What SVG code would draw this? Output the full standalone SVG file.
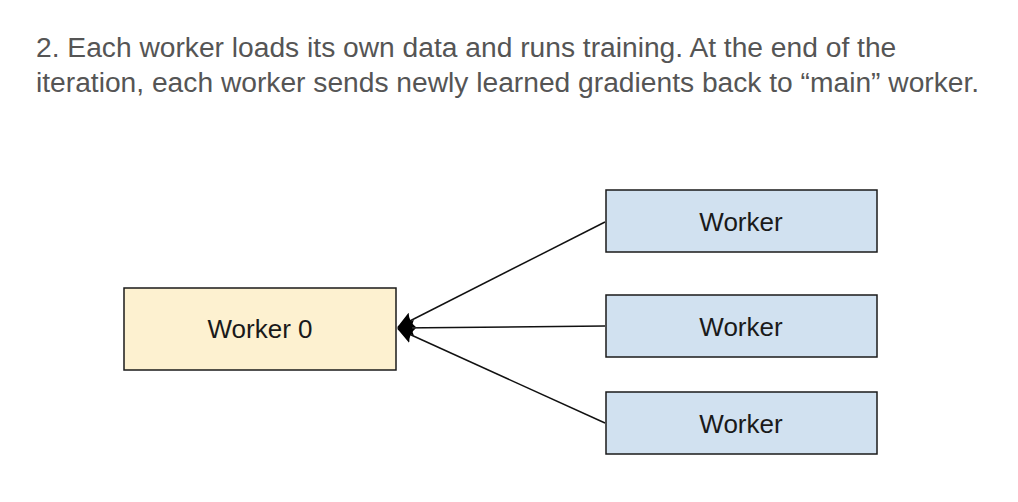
<svg xmlns="http://www.w3.org/2000/svg" width="1018" height="502" viewBox="0 0 1018 502">
<defs>
<style>
.title{font-family:"Liberation Sans",Arial,sans-serif;font-size:28.2px;fill:#555}
.lbl{font-family:"Liberation Sans",Arial,sans-serif;font-size:26px;fill:#1a1a1a;text-anchor:middle}
.w0{fill:#fdf1d0;stroke:#1a1a1a;stroke-width:1.5}
.w{fill:#d1e1f0;stroke:#1a1a1a;stroke-width:1.5}
.c{stroke:#111;stroke-width:1.5;fill:none;marker-end:url(#ah)}
</style>
<marker id="ah" markerUnits="userSpaceOnUse" viewBox="0 0 17 16" refX="16" refY="8" markerWidth="17" markerHeight="16" orient="auto">
<path d="M0,0 L17,8 L0,16 Q4,8 0,0 Z" fill="#000"/>
</marker>
</defs>
<rect width="1018" height="502" fill="#fff"/>
<text class="title" x="36" y="57">2. Each worker loads its own data and runs training. At the end of the</text>
<text class="title" x="36" y="92">iteration, each worker sends newly learned gradients back to “main” worker.</text>
<g id="connectors">
<line class="c" x1="605" y1="222" x2="398" y2="327"/>
<line class="c" x1="605" y1="326" x2="398" y2="328"/>
<line class="c" x1="605" y1="423" x2="398" y2="329"/>
</g>
<g id="worker0">
<rect class="w0" x="124" y="288" width="272" height="82"/>
<text class="lbl" x="260" y="338">Worker 0</text>
</g>
<g id="worker1">
<rect class="w" x="606" y="190" width="271" height="62"/>
<text class="lbl" x="741" y="231">Worker</text>
</g>
<g id="worker2">
<rect class="w" x="606" y="295" width="271" height="62"/>
<text class="lbl" x="741" y="336">Worker</text>
</g>
<g id="worker3">
<rect class="w" x="606" y="392" width="271" height="62"/>
<text class="lbl" x="741" y="433">Worker</text>
</g>
</svg>
